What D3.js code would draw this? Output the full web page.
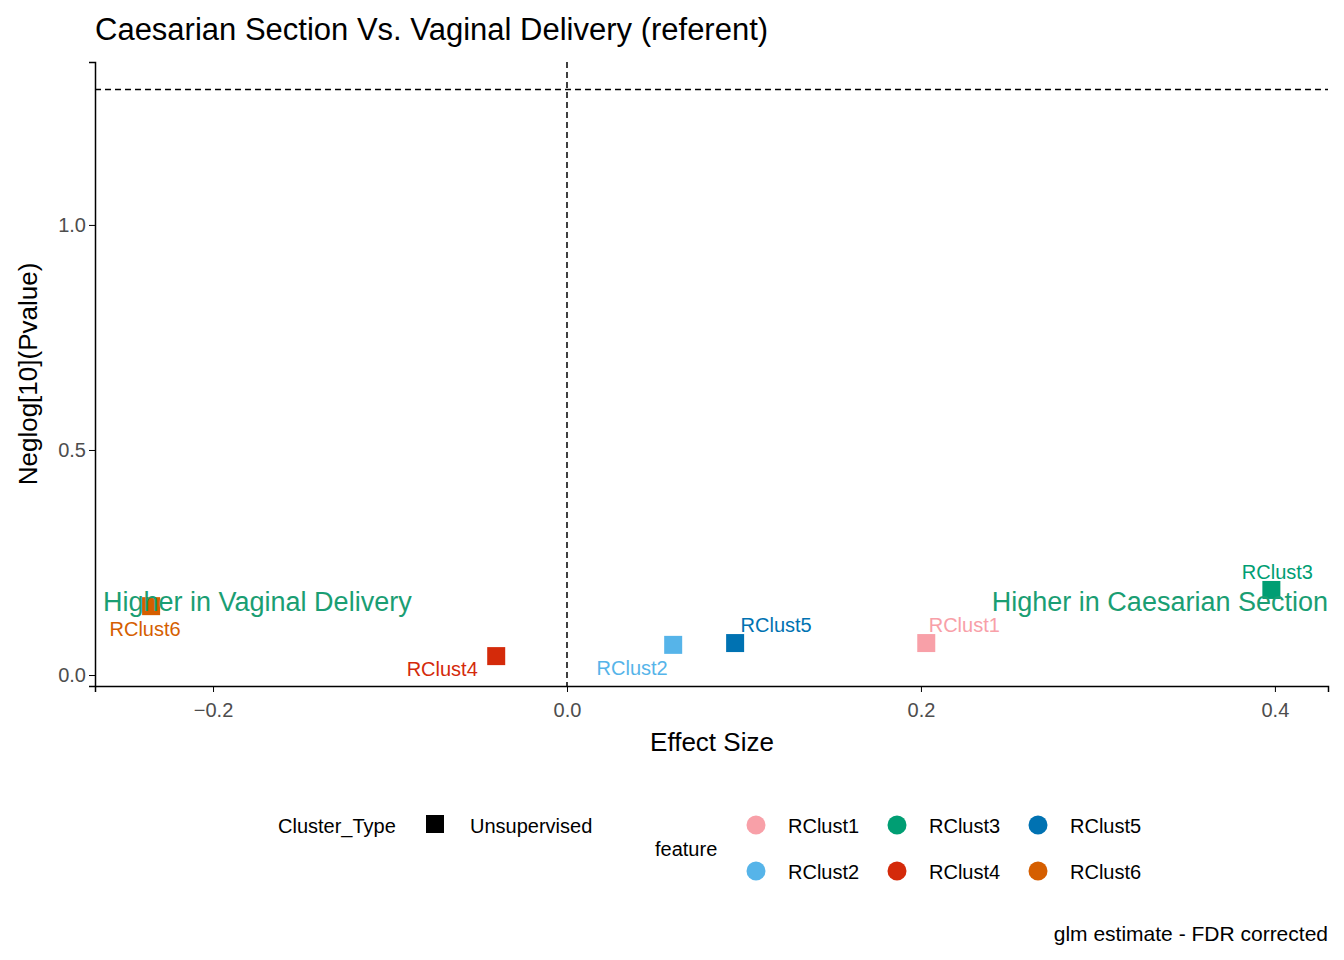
<!DOCTYPE html>
<html><head><meta charset="utf-8">
<script src="https://cdn.jsdelivr.net/npm/d3@7"></script>
<style>body{margin:0;background:#fff}text{font-family:"Liberation Sans",Arial,sans-serif}</style>
</head><body><svg id="c" width="1344" height="960"></svg>
<script>
const features=["RClust1","RClust2","RClust3","RClust4","RClust5","RClust6"];
const effect=[0.203,0.060,0.398,-0.040,0.095,-0.235];
const neglogp=[0.071,0.067,0.189,0.042,0.071,0.153];
const colors=["#F8A0A8","#56B4E9","#009E73","#D42A0A","#0072B2","#D55E00"];
const labelDx=[38,-41,6,-54,41,-6];
const labelDy=[-18,23,-18,13,-18,23];
const xTicks=[-0.2,0,0.2,0.4], yTicks=[0,0.5,1.0];
const svg=d3.select("#c");
const x=d3.scaleLinear().domain([-0.2667,0.43]).range([95,1328]);
const y=d3.scaleLinear().domain([-0.0244,1.362]).range([686,62]);
const g=svg.append("g");
g.append("g").attr("transform","translate(0,686)").call(d3.axisBottom(x).tickValues(xTicks).tickFormat(d3.format(".1f")).tickSizeOuter(0).tickSize(6))
 .call(a=>{a.select(".domain").attr("stroke-width",1.5);a.selectAll("text").attr("font-size",20).attr("fill","#4d4d4d").attr("dy","1.1em");});
g.append("g").attr("transform","translate(95,0)").call(d3.axisLeft(y).tickValues(yTicks).tickFormat(d3.format(".1f")).tickSizeOuter(0).tickSize(6))
 .call(a=>{a.select(".domain").attr("stroke-width",1.5);a.selectAll("text").attr("font-size",20).attr("fill","#4d4d4d");});
g.append("line").attr("x1",95).attr("x2",1328).attr("y1",y(1.301)).attr("y2",y(1.301)).attr("stroke","#000").attr("stroke-width",1.5).attr("stroke-dasharray","6,4");
g.append("line").attr("x1",x(0)).attr("x2",x(0)).attr("y1",62).attr("y2",686).attr("stroke","#000").attr("stroke-width",1.5).attr("stroke-dasharray","6,4");
features.forEach((f,i)=>{
 g.append("rect").attr("x",x(effect[i])-9).attr("y",y(neglogp[i])-9).attr("width",18).attr("height",18).attr("fill",colors[i]);
});
g.append("text").attr("x",103).attr("y",611).attr("font-size",27).attr("fill","#1A9E73").text("Higher in Vaginal Delivery");
g.append("text").attr("x",1328).attr("y",611).attr("text-anchor","end").attr("font-size",27).attr("fill","#1A9E73").text("Higher in Caesarian Section");
features.forEach((f,i)=>{
 g.append("text").attr("x",x(effect[i])+labelDx[i]).attr("y",y(neglogp[i])+labelDy[i]+7).attr("text-anchor","middle").attr("font-size",20).attr("fill",colors[i]).text(f);
});
svg.append("text").attr("x",95).attr("y",40).attr("font-size",31).text("Caesarian Section Vs. Vaginal Delivery (referent)");
svg.append("text").attr("x",712).attr("y",751).attr("text-anchor","middle").attr("font-size",26).text("Effect Size");
svg.append("text").attr("transform","translate(37,374) rotate(-90)").attr("text-anchor","middle").attr("font-size",26).text("Neglog[10](Pvalue)");
// legends
svg.append("text").attr("x",278).attr("y",833).attr("font-size",20).text("Cluster_Type");
svg.append("rect").attr("x",426).attr("y",815).attr("width",18).attr("height",18).attr("fill","#000");
svg.append("text").attr("x",470).attr("y",833).attr("font-size",20).text("Unsupervised");
svg.append("text").attr("x",655).attr("y",856).attr("font-size",20).text("feature");
features.forEach((f,i)=>{
 const col=Math.floor(i/2), row=i%2;
 const cx=756+col*141, cy=825+row*46;
 svg.append("circle").attr("cx",cx).attr("cy",cy).attr("r",9.5).attr("fill",colors[i]);
 svg.append("text").attr("x",cx+32).attr("y",cy+8).attr("font-size",20).text(f);
});
svg.append("text").attr("x",1328).attr("y",941).attr("text-anchor","end").attr("font-size",21).text("glm estimate - FDR corrected");
</script></body></html>
